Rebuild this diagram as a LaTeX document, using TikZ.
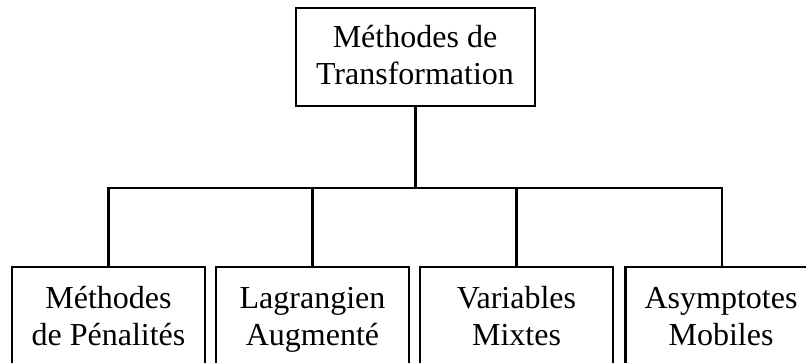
\documentclass[tikz,border=0pt]{standalone}
\usepackage{fontspec}
\setmainfont{Liberation Serif}
\usetikzlibrary{calc}

\tikzset{
  box/.style={draw=black, line width=2.2pt, rectangle, inner sep=0pt, fill=none},
  lbl/.style={inner sep=0pt, align=center, anchor=base,
    font=\fontsize{32}{37}\selectfont},
  link/.style={draw=black, line width=2.2pt},
}

\begin{document}
\begin{tikzpicture}[x=1pt, y=-1pt]
  \useasboundingbox (0,0) rectangle (806,363);
  \clip (0,0) rectangle (806,363);

  % root box
  \node[box, minimum width=239pt, minimum height=98pt] (root) at (415.5,57) {};
  \node[lbl] (rootTxt) at (415,85) {Méthodes de\\Transformation};

  % child boxes (they run past the lower and right edges)
  \node[box, minimum width=193pt, minimum height=100pt] (c1) at (108.5,317) {};
  \node[box, minimum width=193pt, minimum height=100pt] (c2) at (312.5,317) {};
  \node[box, minimum width=193pt, minimum height=100pt] (c3) at (516.5,317) {};
  \node[box, minimum width=193pt, minimum height=100pt] (c4) at (722,317) {};

  \node[lbl] (c1Txt) at (108.5,345) {Méthodes\\de Pénalités};
  \node[lbl] (c2Txt) at (312.5,345) {Lagrangien\\Augmenté};
  \node[lbl] (c3Txt) at (516.5,345) {Variables\\Mixtes};
  \node[lbl] (c4Txt) at (721,345) {Asymptotes\\Mobiles};

  % bus line
  \coordinate (bus) at (415.5,188);
  \draw[link] (root.south) -- (bus);
  \draw[link, line cap=rect] (c1.north |- bus) -- (c4.north |- bus);
  \foreach \c in {c1,c2,c3,c4}
    \draw[link] (\c.north |- bus) -- (\c.north);
\end{tikzpicture}
\end{document}
